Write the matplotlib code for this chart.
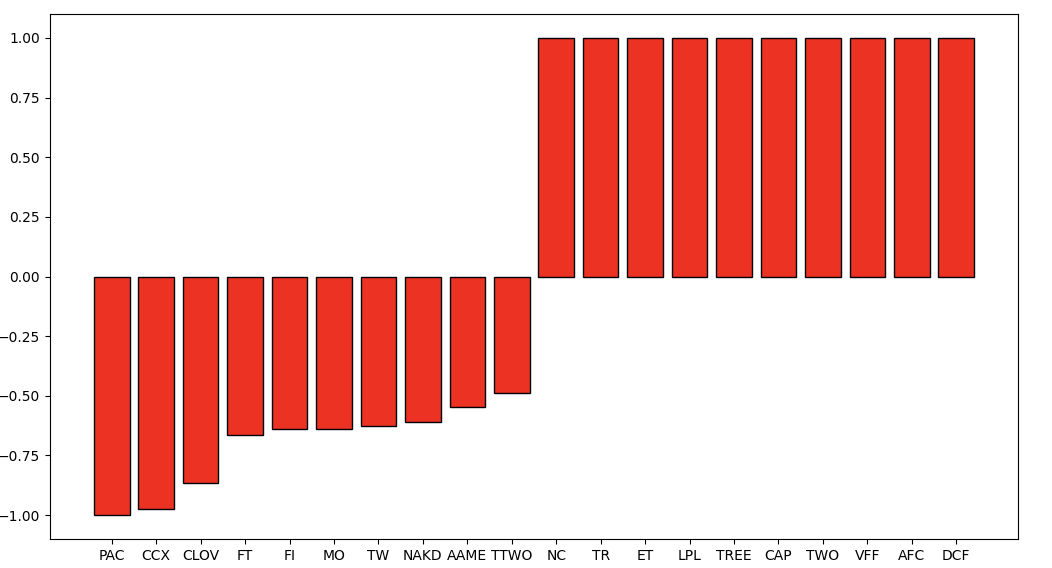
import matplotlib
matplotlib.use("Agg")
import matplotlib.pyplot as plt

tickers = ['PAC', 'CCX', 'CLOV', 'FT', 'FI', 'MO', 'TW', 'NAKD', 'AAME', 'TTWO',
           'NC', 'TR', 'ET', 'LPL', 'TREE', 'CAP', 'TWO', 'VFF', 'AFC', 'DCF']
scores = [-1.00, -0.975, -0.867, -0.665, -0.638, -0.638, -0.625, -0.611, -0.545, -0.487,
          1.0, 1.0, 1.0, 1.0, 1.0, 1.0, 1.0, 1.0, 1.0, 1.0]

fig = plt.figure(figsize=(10.52, 5.68), dpi=100)
ax = fig.add_axes([0.0475, 0.051, 0.9202, 0.9244])
ax.bar(tickers, scores, color='#ec3223', edgecolor='black')
ax.set_yticks([-1.0, -0.75, -0.5, -0.25, 0.0, 0.25, 0.5, 0.75, 1.0])
fig.savefig('out.png', dpi=100)
